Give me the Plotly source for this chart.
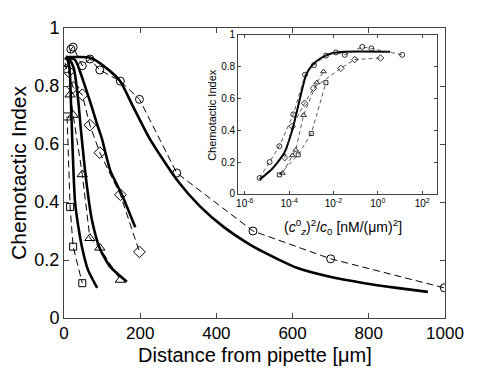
import plotly.graph_objects as go

# ---- main panel: measured points (dashed, open markers) ----
circ_x = [3, 6, 18, 24, 48, 68, 94, 148, 198, 296, 496, 700, 998]
circ_y = [0.88, 0.86, 0.927, 0.934, 0.87, 0.893, 0.855, 0.817, 0.754, 0.50, 0.30, 0.204, 0.104]
diam_x = [12, 24, 48, 68, 94, 148, 198]
diam_y = [0.85, 0.795, 0.77, 0.665, 0.57, 0.425, 0.228]
tri_x = [16, 24, 48, 68, 94, 148]
tri_y = [0.77, 0.70, 0.495, 0.275, 0.242, 0.131]
sq_x = [8, 16, 24, 48]
sq_y = [0.695, 0.383, 0.246, 0.12]

# ---- main panel: model curves (solid) ----
curveA_x = [5, 40, 68, 108, 147, 181, 226, 296, 357, 418, 488, 523, 611, 698, 785, 873, 955]
curveA_y = [0.90, 0.90, 0.898, 0.865, 0.817, 0.73, 0.616, 0.477, 0.385, 0.315, 0.253, 0.228, 0.173, 0.142, 0.121, 0.104, 0.09]
curveB_x = [5, 29, 42, 55, 70, 87, 100, 121, 152, 187]
curveB_y = [0.90, 0.89, 0.85, 0.80, 0.74, 0.668, 0.616, 0.51, 0.425, 0.313]
curveC_x = [5, 15, 26, 37, 45, 58, 73, 94, 121, 165]
curveC_y = [0.90, 0.89, 0.86, 0.754, 0.64, 0.477, 0.34, 0.24, 0.177, 0.125]
curveD_x = [5, 12, 16, 18, 21, 25, 29, 37, 47, 63, 87]
curveD_y = [0.90, 0.88, 0.83, 0.754, 0.64, 0.50, 0.40, 0.32, 0.246, 0.166, 0.104]

# ---- inset: same data vs (c_z^0)^2/c_0 ----
in_curve_x = [10**v for v in [-5.33, -4.75, -4.21, -3.86, -3.63, -3.23, -2.96, -2.56, -2.07, -1.5, 0.56]]
in_curve_y = [0.09, 0.16, 0.26, 0.40, 0.53, 0.75, 0.81, 0.855, 0.885, 0.895, 0.895]
in_circ_x = [10**v for v in [-5.33, -4.88, -4.44, -3.81, -3.28, -2.88, -2.34, -1.89, -1.49, -0.7, -0.29, 1.1]]
in_circ_y = [0.10, 0.20, 0.30, 0.50, 0.75, 0.81, 0.87, 0.89, 0.875, 0.925, 0.915, 0.875]
in_diam_x = [10**v for v in [-4.2, -3.86, -3.3, -2.9, -1.67, -1.04, 0.12]]
in_diam_y = [0.228, 0.425, 0.57, 0.665, 0.79, 0.845, 0.855]
in_tri_x = [10**v for v in [-4.3, -3.85, -3.7, -3.35, -2.75, -2.45]]
in_tri_y = [0.131, 0.242, 0.277, 0.495, 0.70, 0.77]
in_sq_x = [10**v for v in [-4.44, -3.59, -3.0, -2.34]]
in_sq_y = [0.12, 0.246, 0.38, 0.70]

FONT = "Liberation Sans, Arial, sans-serif"
DASH = "7px,4px"

fig = go.Figure()

for xs, ys in [(curveA_x, curveA_y), (curveB_x, curveB_y), (curveC_x, curveC_y), (curveD_x, curveD_y)]:
    fig.add_trace(go.Scatter(x=xs, y=ys, mode="lines",
                             line=dict(color="black", width=2.6, shape="spline", smoothing=0.6),
                             showlegend=False, hoverinfo="skip"))

main_sets = [
    (circ_x, circ_y, "circle-open", 8),
    (diam_x, diam_y, "diamond-open", 9),
    (tri_x, tri_y, "triangle-up-open", 9),
    (sq_x, sq_y, "square-open", 7),
]
for xs, ys, sym, sz in main_sets:
    fig.add_trace(go.Scatter(x=xs, y=ys, mode="lines+markers",
                             line=dict(color="black", width=1, dash=DASH),
                             marker=dict(symbol=sym, size=sz, color="black", line=dict(width=1)),
                             showlegend=False))

# inset
fig.add_trace(go.Scatter(x=in_curve_x, y=in_curve_y, mode="lines",
                         line=dict(color="black", width=2, shape="spline", smoothing=0.6),
                         xaxis="x2", yaxis="y2", showlegend=False))
inset_sets = [
    (in_circ_x, in_circ_y, "circle-open", 5),
    (in_diam_x, in_diam_y, "diamond-open", 5),
    (in_tri_x, in_tri_y, "triangle-up-open", 5),
    (in_sq_x, in_sq_y, "square-open", 4),
]
for xs, ys, sym, sz in inset_sets:
    fig.add_trace(go.Scatter(x=xs, y=ys, mode="lines+markers",
                             line=dict(color="#333", width=0.8, dash="4px,3px"),
                             marker=dict(symbol=sym, size=sz, color="black", line=dict(width=0.8)),
                             xaxis="x2", yaxis="y2", showlegend=False))

axis_common = dict(showline=True, linecolor="#444", linewidth=1, mirror="allticks",
                   ticks="inside", tickcolor="#444", showgrid=False, zeroline=False,
                   automargin=False)

# the page body adds an 8px margin, so the figure is 8px smaller and shifted
fig.update_layout(
    width=483, height=361,
    margin=dict(l=56, r=46, t=20, b=51),
    paper_bgcolor="white", plot_bgcolor="white",
    font=dict(family=FONT, color="black"),
    xaxis=dict(range=[0, 1000], tickvals=[0, 200, 400, 600, 800, 1000], ticklen=5,
               tickfont=dict(size=17), **axis_common),
    yaxis=dict(range=[0, 1], tickvals=[0, 0.2, 0.4, 0.6, 0.8, 1],
               ticktext=["0", "0.2", "0.4", "0.6", "0.8", "1"], ticklen=5,
               tickfont=dict(size=18), **axis_common),
    xaxis2=dict(type="log", range=[-6.3, 2.67], domain=[0.457, 0.979], anchor="y2",
                tickvals=[1e-6, 1e-4, 1e-2, 1, 1e2],
                ticktext=["10<sup>-6</sup>", "10<sup>-4</sup>", "10<sup>-2</sup>",
                          "10<sup>0</sup>", "10<sup>2</sup>"],
                ticklen=3, tickfont=dict(size=10), **axis_common),
    yaxis2=dict(range=[0, 1], domain=[0.428, 0.976], anchor="x2",
                tickvals=[0, 0.2, 0.4, 0.6, 0.8, 1],
                ticktext=["0", "0.2", "0.4", "0.6", "0.8", "1"],
                ticklen=3, tickfont=dict(size=10), **axis_common),
    annotations=[
        dict(text="Distance from pipette [\u03bcm]", xref="paper", yref="paper",
             x=0.5, y=-0.127, xanchor="center", yanchor="middle", showarrow=False,
             font=dict(size=20)),
        dict(text="Chemotactic Index", xref="paper", yref="paper", textangle=-90,
             x=-0.121, y=0.5, xanchor="center", yanchor="middle", showarrow=False,
             font=dict(size=21)),
        dict(text="(<i>c</i><sup>0</sup><sub><i>z</i></sub>)<sup>2</sup>/<i>c</i><sub>0</sub> [nM/(\u03bcm)<sup>2</sup>]",
             xref="paper", yref="paper", x=0.732, y=0.314, xanchor="center", yanchor="middle",
             showarrow=False, font=dict(size=14)),
        dict(text="Chemotactic Index", xref="paper", yref="paper", textangle=-90,
             x=0.388, y=0.70, xanchor="center", yanchor="middle", showarrow=False,
             font=dict(size=11)),
    ],
)

fig.write_html("out.html")
